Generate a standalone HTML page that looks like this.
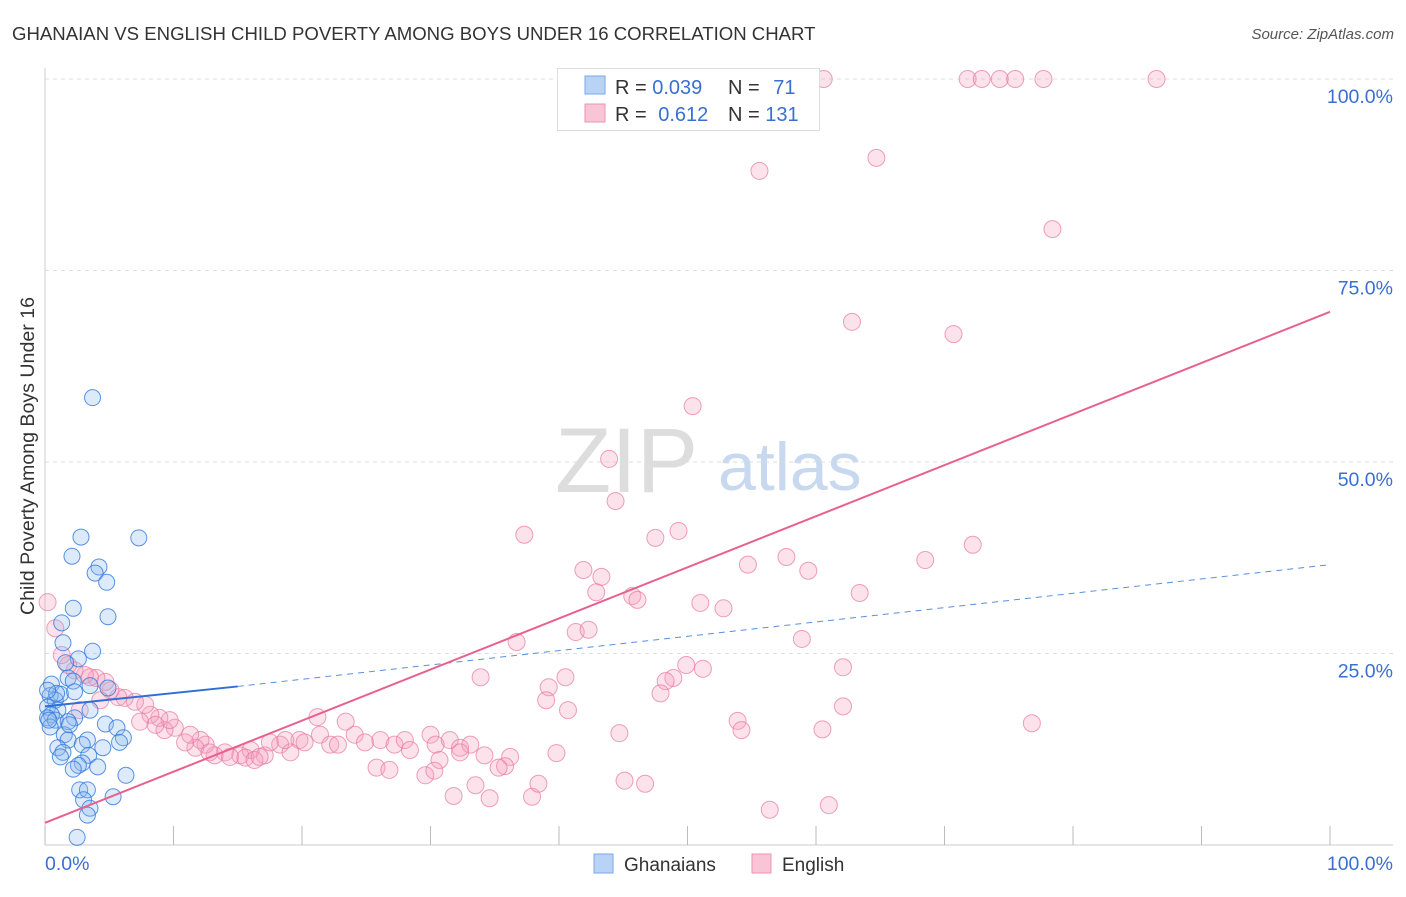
<!DOCTYPE html>
<html><head><meta charset="utf-8"><style>
body{margin:0;background:#fff;font-family:"Liberation Sans",sans-serif;}
svg text{font-family:"Liberation Sans",sans-serif;}
</style></head><body>
<svg id="chart" width="1406" height="892">
<text x="12" y="40" font-size="18.6" fill="#333">GHANAIAN VS ENGLISH CHILD POVERTY AMONG BOYS UNDER 16 CORRELATION CHART</text>
<text x="1394" y="39" font-size="15" fill="#555" font-style="italic" text-anchor="end">Source: ZipAtlas.com</text>
<text x="34" y="456" font-size="19.6" fill="#333" text-anchor="middle" transform="rotate(-90 34 456)">Child Poverty Among Boys Under 16</text>
<text x="555" y="492" font-size="92" fill="#ddd" font-family="Liberation Serif">ZIP</text>
<text x="718" y="490" font-size="68" fill="#c8d8ef">atlas</text>
<g id="grid"></g>
<g id="marks"></g>
<g>
<rect x="557.5" y="68.5" width="262" height="62" fill="#fff" stroke="#ddd"/>
<rect x="585" y="76" width="20" height="18" fill="#b8d3f5" stroke="#7aa8e6"/>
<rect x="585" y="104" width="20" height="18" fill="#f9c4d5" stroke="#ee93b0"/>
<text x="615" y="94" font-size="20" fill="#333">R = <tspan fill="#3a6fd0">0.039</tspan></text>
<text x="728" y="94" font-size="20" fill="#333">N = <tspan fill="#3a6fd0" dx="8">71</tspan></text>
<text x="615" y="121" font-size="20" fill="#333">R = <tspan fill="#3a6fd0" dx="6">0.612</tspan></text>
<text x="728" y="121" font-size="20" fill="#333">N = <tspan fill="#3a6fd0">131</tspan></text>
</g>
<g>
<rect x="594" y="854" width="19" height="19" fill="#b8d3f5" stroke="#7aa8e6"/>
<text x="624" y="871" font-size="19" fill="#333">Ghanaians</text>
<rect x="752" y="854" width="19" height="19" fill="#f9c4d5" stroke="#ee93b0"/>
<text x="782" y="871" font-size="19" fill="#333">English</text>
</g>
</svg>
<script>
const yTicks=[25,50,75,100];
const yTickLabels=["25.0%","50.0%","75.0%","100.0%"];
const xTicks=[0,10,20,30,40,50,60,70,80,90,100];
const blueX=[3.7,2.8,7.3,2.1,4.2,3.9,4.8,2.2,4.9,1.3,1.4,3.7,2.6,1.6,1.8,2.2,0.5,3.5,4.9,1.2,2.3,0.4,0.8,0.2,1.0,0.5,3.5,0.2,0.8,2.3,1.8,0.4,4.7,5.6,1.5,1.8,3.3,6.1,5.8,2.9,1.0,1.4,4.5,3.4,1.2,2.9,2.6,2.2,4.1,6.3,2.7,3.3,3.0,5.3,3.5,3.3,2.5,1.9,0.9,0.2,0.3];
const blueY=[58.4,40.2,40.1,37.7,36.3,35.5,34.3,30.9,29.8,29.0,26.4,25.3,24.3,23.8,21.8,21.4,21.0,20.8,20.5,19.7,20.0,19.5,18.9,18.0,17.6,17.0,17.6,16.6,16.3,16.6,16.1,15.4,15.8,15.3,14.4,13.7,13.7,14.0,13.4,13.1,12.7,12.1,12.7,11.7,11.5,10.7,10.4,9.9,10.2,9.1,7.2,7.2,5.9,6.3,4.8,3.9,1.0,15.7,19.8,20.2,16.3];
const pinkX=[71.8,72.9,74.3,75.5,77.7,86.5,60.6,55.6,64.7,78.4,62.8,70.7,50.4,43.9,44.4,49.3,47.5,37.3,57.7,54.7,59.4,68.5,72.2,41.9,43.3,42.9,45.7,46.1,51.0,52.8,63.4,41.3,42.3,36.7,58.9,49.9,51.2,62.1,48.9,48.3,33.9,40.5,39.2,47.9,39.0,40.7,62.1,53.9,54.2,60.5,76.8,44.7,21.2,23.4,19.8,21.4,22.2,24.1,24.9,26.1,27.2,28.0,28.4,30.0,30.4,31.5,32.3,33.1,30.7,32.3,34.2,36.2,35.8,39.8,35.3,25.8,26.8,29.6,30.3,33.5,31.8,34.6,37.9,38.4,45.1,46.7,56.4,61.0,18.3,19.1,17.1,17.5,16.0,15.2,14.0,13.2,14.4,12.5,12.1,11.7,10.9,10.1,9.3,9.7,8.9,8.2,7.8,7.0,6.2,5.7,5.1,4.7,4.0,3.5,3.1,2.3,1.8,1.3,0.8,0.2,2.7,4.3,7.4,8.6,11.3,12.8,15.6,16.3,16.7,20.2,22.8,18.7];
const pinkY=[100,100,100,100,100,100,100,88.0,89.7,80.4,68.3,66.7,57.3,50.4,44.9,41.0,40.1,40.5,37.6,36.6,35.8,37.2,39.2,35.9,35.0,33.0,32.5,32.0,31.6,30.9,32.9,27.8,28.1,26.5,26.9,23.5,23.0,23.2,21.8,21.4,21.9,21.9,20.6,19.8,18.9,17.6,18.1,16.2,15.0,15.1,15.9,14.6,16.7,16.1,13.7,14.4,13.1,14.4,13.4,13.7,13.1,13.7,12.4,14.4,13.1,13.7,12.7,13.1,11.1,12.1,11.7,11.5,10.3,12.0,10.1,10.1,9.8,9.1,9.7,7.8,6.4,6.1,6.3,8.0,8.4,8.0,4.6,5.2,13.1,12.1,11.7,13.4,12.4,11.7,12.1,11.7,11.5,13.1,13.7,12.7,13.4,15.3,15.0,16.3,16.6,17.0,18.3,18.7,19.2,19.3,20.2,21.3,21.8,21.9,22.2,22.8,23.5,24.8,28.3,31.7,17.6,18.9,16.1,15.7,14.4,12.1,11.4,11.1,11.5,13.4,13.1,13.7];
const blueTrend=[[0,18.1],[15,20.7],[100,36.6]];
const pinkTrend=[[0,2.9],[100,69.6]];
const NS="http://www.w3.org/2000/svg";
const X=v=>45+v*12.85, Y=v=>845-v*7.66;
function mk(tag,attrs,parent){const e=document.createElementNS(NS,tag);for(const k in attrs)e.setAttribute(k,attrs[k]);parent.appendChild(e);return e;}
const grid=document.getElementById('grid'),marks=document.getElementById('marks');
yTicks.forEach((t,i)=>{
 const l=mk('line',{x1:45,x2:1393,y1:Y(t),y2:Y(t),stroke:'#ddd','stroke-dasharray':'4,4'},grid);
 
 
 const tx=mk('text',{x:1393,y:Y(t)+24,'font-size':19.5,fill:'#3a6fd0','text-anchor':'end'},grid);tx.textContent=yTickLabels[i];
 
 
});
const ax=mk('line',{x1:45,x2:45,y1:68,y2:845,stroke:'#ccc'},grid);


const xa=mk('line',{x1:45,x2:1393,y1:845,y2:845,stroke:'#ccc'},grid);


xTicks.forEach(t=>{const l=mk('line',{x1:X(t),x2:X(t),y1:826,y2:845,stroke:'#bbb'},grid);
 
 });
const x0=mk('text',{x:45,y:870,'font-size':19.5,fill:'#3a6fd0'},grid);x0.textContent='0.0%';


const x1=mk('text',{x:1393,y:870,'font-size':19.5,fill:'#3a6fd0','text-anchor':'end'},grid);x1.textContent='100.0%';


pinkX.forEach((v,i)=>{const c=mk('circle',{cx:X(v),cy:Y(pinkY[i]),r:8.5,fill:'rgba(246,160,190,0.3)',stroke:'rgba(232,120,160,0.7)','stroke-width':1},marks);
 
 });
blueX.forEach((v,i)=>{const c=mk('circle',{cx:X(v),cy:Y(blueY[i]),r:8,fill:'rgba(140,185,240,0.3)',stroke:'rgba(50,120,220,0.8)','stroke-width':1},marks);
 
 });
const bs=mk('line',{x1:X(blueTrend[0][0]),y1:Y(blueTrend[0][1]),x2:X(blueTrend[1][0]),y2:Y(blueTrend[1][1]),stroke:'#2f6fd6','stroke-width':2},marks);


const bd=mk('line',{x1:X(blueTrend[1][0]),y1:Y(blueTrend[1][1]),x2:X(blueTrend[2][0]),y2:Y(blueTrend[2][1]),stroke:'#5a8fdc','stroke-width':1,'stroke-dasharray':'6,5'},marks);


const pl=mk('line',{x1:X(pinkTrend[0][0]),y1:Y(pinkTrend[0][1]),x2:X(pinkTrend[1][0]),y2:Y(pinkTrend[1][1]),stroke:'#e8608e','stroke-width':2},marks);


</script>
</body></html>
